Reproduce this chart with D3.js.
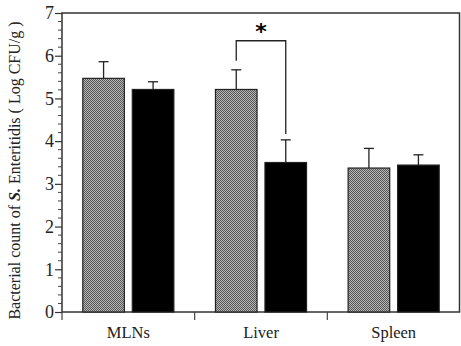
<!DOCTYPE html>
<html><head><meta charset="utf-8">
<script src="https://cdn.jsdelivr.net/npm/d3@7"></script>
<style>body{margin:0;background:#fff}svg{display:block}</style>
</head><body>
<script>
const categories = ["MLNs", "Liver", "Spleen"];
const groups = ["control", "treated"];
const meanValues = {control: [5.47, 5.21, 3.37], treated: [5.21, 3.50, 3.44]};
const errValues = {control: [0.39, 0.46, 0.46], treated: [0.18, 0.53, 0.24]};
const yTicks = [0, 1, 2, 3, 4, 5, 6, 7];

const W = 461, H = 346;
const m = {left: 62, right: 1, top: 13, bottom: 34};
const svg = d3.select("body").append("svg").attr("width", W).attr("height", H);
const defs = svg.append("defs");
const pat = defs.append("pattern").attr("id", "chk").attr("patternUnits", "userSpaceOnUse")
  .attr("width", 2).attr("height", 2);
pat.append("rect").attr("width", 2).attr("height", 2).attr("fill", "#b8b8b8");
pat.append("rect").attr("x", 0).attr("y", 0).attr("width", 1).attr("height", 1).attr("fill", "#555");
pat.append("rect").attr("x", 1).attr("y", 1).attr("width", 1).attr("height", 1).attr("fill", "#555");

const x = d3.scaleBand().domain(categories).range([m.left, W - m.right]).paddingInner(0).paddingOuter(0);
const x1 = d3.scaleBand().domain(groups).range([0, x.bandwidth()]).paddingInner(0.16).paddingOuter(0.42);
const y = d3.scaleLinear().domain([0, 7]).range([H - m.bottom, m.top]);

const font = "'Liberation Serif', 'Times New Roman', serif";

// frame
svg.append("rect").attr("x", m.left).attr("y", m.top)
  .attr("width", W - m.right - m.left - 0.5).attr("height", y(0) - m.top)
  .attr("fill", "none").attr("stroke", "#333").attr("stroke-width", 1.5);

// bars
const data = [];
categories.forEach((c, i) => groups.forEach(g => data.push({c, g, v: meanValues[g][i], e: errValues[g][i]})));
const bars = svg.append("g");
bars.selectAll("rect").data(data).join("rect")
  .attr("x", d => x(d.c) + x1(d.g))
  .attr("y", d => y(d.v))
  .attr("width", x1.bandwidth())
  .attr("height", d => y(0) - y(d.v))
  .attr("fill", d => d.g === "control" ? "url(#chk)" : "#000")
  .attr("stroke", "#222").attr("stroke-width", 1.2);

// error bars
const eb = svg.append("g").attr("stroke", "#222").attr("stroke-width", 1.3);
data.forEach(d => {
  const cx = x(d.c) + x1(d.g) + x1.bandwidth() / 2;
  eb.append("line").attr("x1", cx).attr("x2", cx).attr("y1", y(d.v)).attr("y2", y(d.v + d.e));
  eb.append("line").attr("x1", cx - 5).attr("x2", cx + 5).attr("y1", y(d.v + d.e)).attr("y2", y(d.v + d.e));
});

// significance bracket (Liver)
const lx1 = x("Liver") + x1("control") + x1.bandwidth() / 2;
const lx2 = x("Liver") + x1("treated") + x1.bandwidth() / 2;
const yb = y(6.35);
svg.append("path")
  .attr("d", `M${lx1},${y(5.88)}V${yb}H${lx2}V${y(4.17)}`)
  .attr("fill", "none").attr("stroke", "#222").attr("stroke-width", 1.3);
svg.append("text").attr("x", (lx1 + lx2) / 2).attr("y", yb - 2)
  .attr("text-anchor", "middle").attr("font-family", "'DejaVu Sans', sans-serif")
  .attr("font-size", 22).attr("font-weight", "bold").text("*");

// y axis
const yAxis = d3.axisLeft(y).tickValues(yTicks).tickSize(7).tickFormat(d3.format("d"));
const ya = svg.append("g").attr("transform", `translate(${m.left},0)`).call(yAxis);
ya.select(".domain").remove();
ya.selectAll("line").attr("stroke", "#333").attr("stroke-width", 1.2);
ya.selectAll("text").attr("font-family", font).attr("font-size", 18).attr("fill", "#222").attr("x", -8);
const minor = d3.range(0, 7.01, 0.2).filter(v => Math.abs(v - Math.round(v)) > 0.01);
svg.append("g").selectAll("line").data(minor).join("line")
  .attr("x1", m.left - 4).attr("x2", m.left).attr("y1", d => y(d)).attr("y2", d => y(d))
  .attr("stroke", "#444").attr("stroke-width", 1);

// x axis
const xa = svg.append("g").attr("transform", `translate(0,${y(0)})`)
  .call(d3.axisBottom(x).tickSize(0).tickPadding(14));
xa.select(".domain").remove();
xa.selectAll("text").attr("font-family", font).attr("font-size", 16.5).attr("fill", "#222");
const bounds = [m.left, x("Liver"), x("Spleen")];
svg.append("g").selectAll("line").data(bounds).join("line")
  .attr("x1", d => d).attr("x2", d => d).attr("y1", y(0)).attr("y2", y(0) + 8)
  .attr("stroke", "#444").attr("stroke-width", 1.2);

// y label
const yl = svg.append("text").attr("transform", `translate(20,${(m.top + y(0)) / 2 + 8}) rotate(-90)`)
  .attr("text-anchor", "middle").attr("font-family", font).attr("font-size", 16).attr("fill", "#222");
yl.append("tspan").text("Bacterial count of ");
yl.append("tspan").attr("font-style", "italic").attr("font-weight", "bold").text("S.");
yl.append("tspan").text(" Enteritidis ( Log CFU/g )");
</script>
</body></html>
